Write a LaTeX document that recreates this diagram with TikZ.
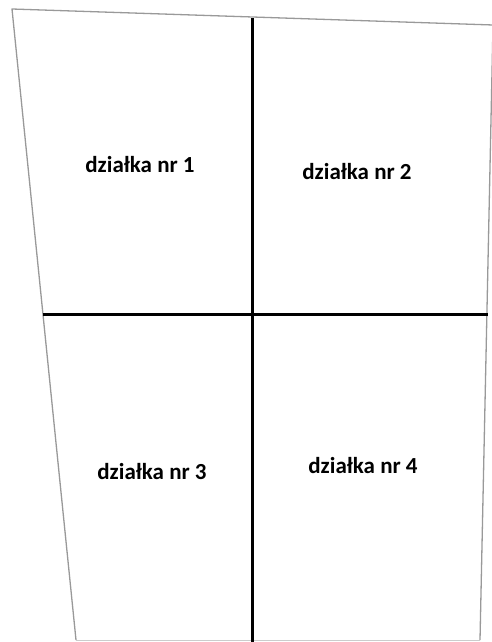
\documentclass[tikz,border=0pt]{standalone}
\usepackage{fontspec}
\setmainfont{Carlito}
\usetikzlibrary{calc}
\tikzset{
  plotedge/.style  = {draw=black!40, line width=1.3pt, line join=round},
  plotfaint/.style = {draw=black!20, line width=1pt},
  plotsplit/.style = {draw=black, line width=3pt},
  plotlab/.style   = {font=\bfseries\fontsize{23}{27}\selectfont,
                      inner sep=0pt, anchor=base},
}

\begin{document}
\begin{tikzpicture}[x=1pt, y=-1pt]
  \useasboundingbox (0,0) rectangle (491,642);
  % corners of the whole plot
  \coordinate (tl) at (12,9);
  \coordinate (tr) at (493,25);
  \coordinate (br) at (480,640);
  \coordinate (bl) at (76,640);
  \draw[plotedge] (br) -- (tr) -- (tl) -- (bl);
  \draw[plotfaint] (bl) -- (br);
  % division lines
  \coordinate (midL) at (43,314);
  \coordinate (midR) at (488,314);
  \coordinate (midT) at (252,18);
  \coordinate (midB) at (252,642);
  \draw[plotsplit] (midT) -- (midB);
  \draw[plotsplit] (midL) -- (midR);
  % labels
  \node[plotlab] (plot1) at (140,172) {działka nr 1};
  \node[plotlab] (plot2) at (357,179) {działka nr 2};
  \node[plotlab] (plot3) at (152,479) {działka nr 3};
  \node[plotlab] (plot4) at (363,473) {działka nr 4};
\end{tikzpicture}
\end{document}
